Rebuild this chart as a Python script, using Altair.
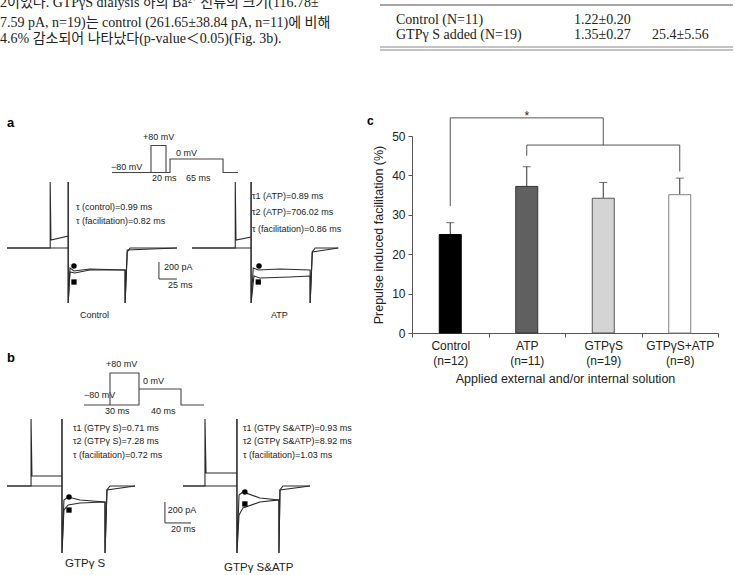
import altair as alt
import pandas as pd

SANS = "Liberation Sans, Arial, sans-serif"
SERIF = "Liberation Serif, Noto Sans CJK KR, serif"

# ---------------- panel c data ----------------
groups = ["Control\n(n=12)", "ATP\n(n=11)", "GTPγS\n(n=19)", "GTPγS+ATP\n(n=8)"]
facilitation_mean = [25.0, 37.2, 34.2, 35.1]
facilitation_sem = [3.0, 5.0, 4.0, 4.2]
bar_fill = ["#000000", "#606060", "#d4d4d4", "#ffffff"]
bar_edge = ["#000000", "#333333", "#555555", "#808080"]

bracket_path = [1, 1, 1, 1, 2, 2, 2, 2]
bracket_pos = [0.5, 0.5, 2.5, 2.5, 1.5, 1.5, 3.5, 3.5]
bracket_level = [32.2, 54.6, 54.6, 47.7, 45.0, 47.7, 47.7, 41.0]
star_pos = [1.5]
star_level = [54.6]

# ---------------- panel a data (ms, pA / mV) ----------------
a_ctrl_pre_t = [0, 60, 60, 61, 85, 85, 85, 87.5, 93, 115, 164, 164, 167, 171, 236]
a_ctrl_pre_i = [0, 0, 776, 94, 141, 776, -647, -235, -271, -247, -259, -647, -47, 0, 0]
a_ctrl_nopre_t = [0, 85, 85, 85, 87.5, 94, 115, 164, 164, 167, 236]
a_ctrl_nopre_i = [0, 0, 776, -647, -282, -294, -259, -259, -647, -24, 0]
a_atp_pre_t = [257, 317, 317, 318, 339, 339, 339, 342, 349, 379, 421, 421, 424, 428, 460]
a_atp_pre_i = [0, 0, 776, 94, 129, 776, -647, -235, -259, -247, -259, -647, -47, 0, 0]
a_atp_nopre_t = [257, 339, 339, 339, 343, 351, 393, 421, 421, 424, 460]
a_atp_nopre_i = [0, 0, 776, -647, -329, -353, -341, -329, -647, -47, 0]
a_scalebar_t = [211, 211, 236]
a_scalebar_i = [-165, -365, -365]
a_circle_t = [93, 350]
a_circle_i = [-212, -212]
a_square_t = [93, 349]
a_square_i = [-400, -400]
a_prot_t = [0, 49.5, 49.5, 68.6, 68.6, 49.5, 73.7, 73.7, 141, 141, 160]
a_prot_v = [-80, -80, 80, 80, -80, -80, -80, 0, 0, -80, -80]

# ---------------- panel b data ----------------
b_g_pre_t = [0, 18.5, 18.5, 19.2, 42.3, 42.3, 42.3, 43.8, 47, 56.2, 75.4, 75.4, 76.9, 79.2, 98.5]
b_g_pre_i = [0, 0, 638, 95, 95, 638, -638, -133, -105, -133, -152, -638, -38, 0, 0]
b_g_nopre_t = [0, 42.3, 42.3, 42.3, 43.8, 47, 56.2, 75.4, 75.4, 76.9, 98.5]
b_g_nopre_i = [0, 0, 638, -638, -229, -181, -162, -152, -638, -38, 0]
b_ga_pre_t = [135.4, 152.3, 152.3, 153.1, 176.9, 176.9, 176.9, 178.5, 181.5, 194.6, 209.2, 209.2, 210, 212.3, 233.1]
b_ga_pre_i = [0, 0, 638, 124, 124, 638, -638, -86, -57, -114, -133, -638, -38, 0, 0]
b_ga_nopre_t = [135.4, 176.9, 176.9, 176.9, 178.5, 181.5, 194.6, 209.2, 209.2, 210, 233.1]
b_ga_nopre_i = [0, 0, 638, -638, -276, -210, -152, -133, -638, -38, 0]
b_scalebar_t = [121.5, 121.5, 141.5]
b_scalebar_i = [-152, -352, -352]
b_circle_t = [47.7, 183]
b_circle_i = [-105, -57]
b_square_t = [47.7, 183]
b_square_i = [-229, -171]
b_prot_t = [0, 26, 26, 55, 55, 26, 55, 55, 97, 97, 120]
b_prot_v = [-80, -80, 80, 80, -80, -80, -80, 0, 0, -80, -80]

# ---------------- page text ----------------
paragraph_lines = [
    "2이었다. GTPγS dialysis 하의 Ba²⁺ 전류의 크기(116.78±",
    "7.59 pA, n=19)는 control (261.65±38.84 pA, n=11)에 비해",
    "4.6% 감소되어 나타났다(p-value＜0.05)(Fig. 3b).",
]
table_labels = ["Control  (N=11)", "GTPγ S  added  (N=19)"]
table_col1 = ["1.22±0.20", "1.35±0.27"]
table_col2 = ["", "25.4±5.56"]

_one = pd.DataFrame({"_": [0]})


def txt(s, x, y, size=9, font=SANS, weight="normal", align="left", color="#222"):
    return alt.Chart(_one).mark_text(
        text=s, fontSize=size, font=font, fontWeight=weight, align=align,
        baseline="alphabetic", color=color
    ).encode(x=alt.value(x), y=alt.value(y))


def hrule(x1, x2, y, color="#888", w=1.5):
    return alt.Chart(_one).mark_rule(color=color, strokeWidth=w).encode(
        x=alt.value(x1), x2=alt.value(x2), y=alt.value(y))


def series(ids, ts, vs):
    rows = []
    for sid, t, v in zip(ids, ts, vs):
        for k, (a, b) in enumerate(zip(t, v)):
            rows.append({"id": sid, "k": k, "t": a, "v": b})
    return pd.DataFrame(rows)


def trace_panel(traces, bar, circ, sq, xdom, xr, ydom, yr):
    xs = alt.Scale(domain=xdom, range=xr, nice=False, zero=False)
    ys = alt.Scale(domain=ydom, range=yr, nice=False, zero=False)
    X = alt.X("t:Q", scale=xs, axis=None)
    Y = alt.Y("v:Q", scale=ys, axis=None)
    lines = alt.Chart(series(*traces)).mark_line(color="#2a2a2a", strokeWidth=1.1).encode(
        x=X, y=Y, detail="id:N", order="k:Q")
    sbar = alt.Chart(series(["s"], [bar[0]], [bar[1]])).mark_line(color="#333", strokeWidth=1).encode(
        x=X, y=Y, detail="id:N", order="k:Q")
    c = alt.Chart(pd.DataFrame({"t": circ[0], "v": circ[1]})).mark_circle(size=30, color="#000", opacity=1).encode(x=X, y=Y)
    s = alt.Chart(pd.DataFrame({"t": sq[0], "v": sq[1]})).mark_square(size=28, color="#000", opacity=1).encode(x=X, y=Y)
    return alt.layer(lines, sbar, c, s)


def protocol(t, v, xr, yr):
    xs = alt.Scale(domain=[t[0], t[-1]], range=xr, nice=False, zero=False)
    ys = alt.Scale(domain=[-100, 100], range=yr, nice=False, zero=False)
    return alt.Chart(series(["p"], [t], [v])).mark_line(color="#444", strokeWidth=1.1).encode(
        x=alt.X("t:Q", scale=xs, axis=None), y=alt.Y("v:Q", scale=ys, axis=None),
        detail="id:N", order="k:Q")


# ---------------- panel c ----------------
c_df = pd.DataFrame({"group": groups, "mean": facilitation_mean, "sem": facilitation_sem})
xc_scale = alt.Scale(domain=groups, range=[412, 718], paddingInner=0, paddingOuter=0)
yc_scale = alt.Scale(domain=[0, 50], range=[333, 136], nice=False)
x_axis = alt.Axis(
    title="Applied external and/or internal solution", labelAngle=0, tickBand="extent",
    offset=-242, labelExpr="split(datum.label, '\\n')", labelFont=SANS, labelFontSize=12,
    labelColor="#222", labelLineHeight=15, tickSize=4, tickColor="#555", domainColor="#555",
    labelPadding=3, titleFont=SANS, titleFontSize=12.5, titleFontWeight="normal",
    titleColor="#222", titlePadding=6, grid=False)
y_axis = alt.Axis(
    title="Prepulse induced facilitation (%)", values=[0, 10, 20, 30, 40, 50], offset=-412,
    labelFont=SANS, labelFontSize=12, labelColor="#222", tickSize=4, tickColor="#555",
    domainColor="#555", labelPadding=3, titleFont=SANS, titleFontSize=12.5,
    titleFontWeight="normal", titleColor="#222", titlePadding=6, grid=False)
XC = alt.X("group:N", sort=groups, scale=xc_scale, axis=x_axis)

base_c = alt.Chart(c_df).transform_calculate(upper="datum.mean + datum.sem")
bars = base_c.mark_bar(size=22, strokeWidth=1).encode(
    x=XC, y=alt.Y("mean:Q", scale=yc_scale, axis=y_axis),
    color=alt.Color("group:N", scale=alt.Scale(domain=groups, range=bar_fill), legend=None),
    stroke=alt.Stroke("group:N", scale=alt.Scale(domain=groups, range=bar_edge), legend=None))
err = base_c.mark_rule(color="#333", strokeWidth=1).encode(
    x=XC, y=alt.Y("mean:Q", scale=yc_scale, axis=y_axis), y2="upper:Q")
cap = base_c.mark_tick(size=8, thickness=1, color="#333").encode(
    x=XC, y=alt.Y("upper:Q", scale=yc_scale, axis=y_axis))
panel_c = alt.layer(err, bars, cap)

bx = alt.Scale(domain=[0, 4], range=[412, 718], nice=False, zero=False)
by = alt.Scale(domain=[0, 50], range=[333, 136], nice=False)
br_df = pd.DataFrame({"path": bracket_path, "pos": bracket_pos, "level": bracket_level,
                      "k": list(range(len(bracket_pos)))})
br = alt.Chart(br_df).mark_line(color="#555", strokeWidth=1).encode(
    x=alt.X("pos:Q", scale=bx, axis=None), y=alt.Y("level:Q", scale=by, axis=None),
    detail="path:N", order="k:Q")
star = alt.Chart(pd.DataFrame({"pos": star_pos, "level": star_level})).mark_text(
    text="*", font=SANS, fontSize=12, baseline="alphabetic", dy=2, color="#222").encode(
    x=alt.X("pos:Q", scale=bx, axis=None), y=alt.Y("level:Q", scale=by, axis=None))
bracket = alt.layer(br, star)

# ---------------- traces ----------------
panel_a = trace_panel(
    (["cp", "cn", "ap", "an"],
     [a_ctrl_pre_t, a_ctrl_nopre_t, a_atp_pre_t, a_atp_nopre_t],
     [a_ctrl_pre_i, a_ctrl_nopre_i, a_atp_pre_i, a_atp_nopre_i]),
    (a_scalebar_t, a_scalebar_i), (a_circle_t, a_circle_i), (a_square_t, a_square_i),
    [0, 459.7], [7, 338], [-1000, 1000], [333, 163])
panel_b = trace_panel(
    (["gp", "gn", "sp", "sn"],
     [b_g_pre_t, b_g_nopre_t, b_ga_pre_t, b_ga_nopre_t],
     [b_g_pre_i, b_g_nopre_i, b_ga_pre_i, b_ga_nopre_i]),
    (b_scalebar_t, b_scalebar_i), (b_circle_t, b_circle_i), (b_square_t, b_square_i),
    [0, 233.1], [7, 310], [-1000, 1000], [591, 381])
prot_a = protocol(a_prot_t, a_prot_v, [112, 238], [175.9, 142.1])
prot_b = protocol(b_prot_t, b_prot_v, [84, 204], [409, 369])

texts = [
    txt(paragraph_lines[0], 0, 7, 14, SERIF),
    txt(paragraph_lines[1], 0, 27, 14, SERIF),
    txt(paragraph_lines[2], 0, 42.5, 14, SERIF),
    txt(table_labels[0], 396, 23.5, 14, SERIF),
    txt(table_labels[1], 396, 38.5, 14, SERIF),
    txt(table_col1[0], 574, 23.5, 14, SERIF),
    txt(table_col1[1], 574, 38.5, 14, SERIF),
    txt(table_col2[1], 652, 38.5, 14, SERIF),
    hrule(380, 733, 5),
    hrule(380, 733, 47, "#888", 1.2),
    hrule(380, 733, 50, "#888", 1.2),
    # panel labels
    txt("a", 7, 127, 13, SANS, "bold", color="#000"),
    txt("b", 7, 362, 13, SANS, "bold", color="#000"),
    txt("c", 367, 125, 12, SANS, "bold", color="#000"),
    # panel a
    txt("+80 mV", 143, 140), txt("0 mV", 176, 155.7), txt("\u221280 mV", 111, 170),
    txt("20 ms", 152, 181), txt("65 ms", 186, 181),
    txt("τ (control)=0.99 ms", 76, 210), txt("τ (facilitation)=0.82 ms", 76, 224),
    txt("τ1 (ATP)=0.89 ms", 252, 198.7), txt("τ2 (ATP)=706.02 ms", 252, 215.3),
    txt("τ (facilitation)=0.86 ms", 252, 232),
    txt("200 pA", 164, 270), txt("25 ms", 168, 287.7),
    txt("Control", 80, 317.7), txt("ATP", 271, 317.7),
    # panel b
    txt("+80 mV", 106, 367.3), txt("0 mV", 143, 384.3), txt("\u221280 mV", 84, 397.7),
    txt("30 ms", 105, 414), txt("40 ms", 151, 414),
    txt("τ1 (GTPγ S)=0.71 ms", 73, 431), txt("τ2 (GTPγ S)=7.28 ms", 73, 444.3),
    txt("τ (facilitation)=0.72 ms", 73, 458.3),
    txt("τ1 (GTPγ S&ATP)=0.93 ms", 243, 431), txt("τ2 (GTPγ S&ATP)=8.92 ms", 243, 444.3),
    txt("τ (facilitation)=1.03 ms", 243, 458.3),
    txt("200 pA", 167.7, 512.7), txt("20 ms", 171, 532.3),
    txt("GTPγ S", 65, 566.7, 11.5), txt("GTPγ S&ATP", 224, 571, 11.5),
]

chart = alt.layer(
    *texts, prot_a, panel_a, prot_b, panel_b, panel_c, bracket
).resolve_scale(
    x="independent", y="independent", color="independent", stroke="independent"
).properties(
    width=735, height=575, autosize=alt.AutoSizeParams(type="none"), padding=0,
    background="white"
).configure_view(stroke=None)

chart.save("out.html", embed_options={"renderer": "svg", "actions": False})
